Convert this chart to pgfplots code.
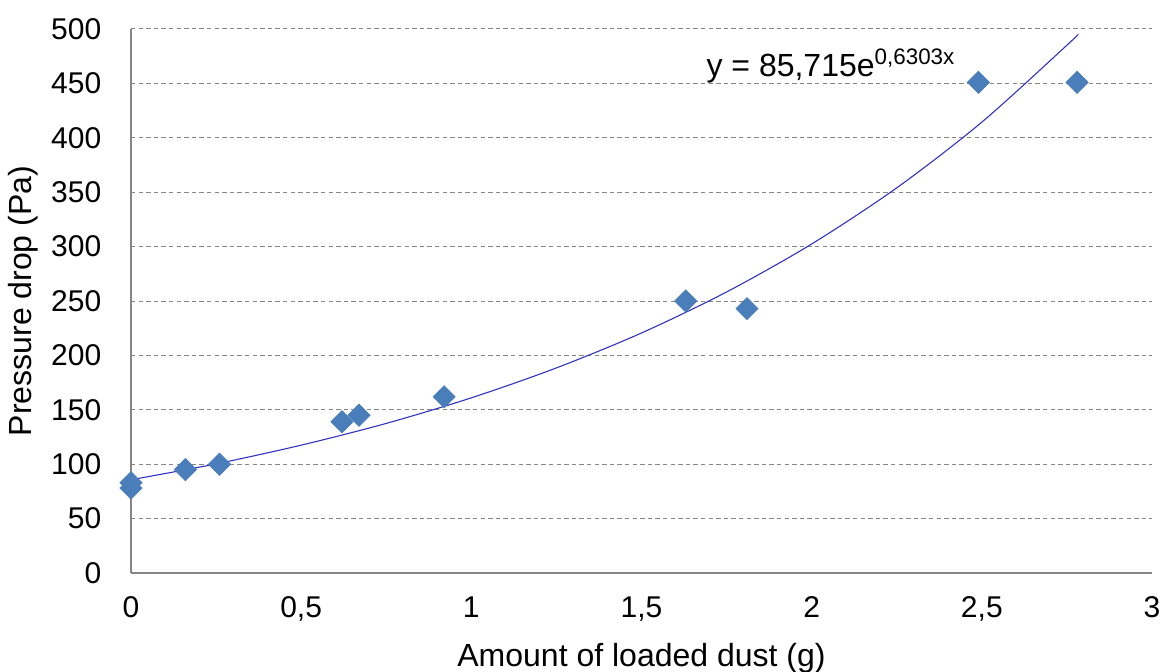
\documentclass[border=0pt]{standalone}
\usepackage{fontspec}
\setmainfont{Liberation Sans}
\usepackage{pgfplots}
\pgfplotsset{compat=1.18}

\definecolor{markblue}{RGB}{74,126,187}
\definecolor{fitblue}{RGB}{50,50,195}
\definecolor{axgray}{RGB}{134,134,134}

\begin{document}
\fontsize{14bp}{16bp}\selectfont
\begin{tikzpicture}
\begin{axis}[
  scale only axis,
  width=510.5bp, height=272bp,
  xmin=0, xmax=3, ymin=0, ymax=500,
  xtick={0,0.5,1,1.5,2,2.5,3},
  xticklabels={0,{0,5},1,{1,5},2,{2,5},3},
  ytick={0,50,...,500},
  axis x line*=bottom, axis y line*=left,
  axis line style={axgray, line width=0.7pt, -},
  major tick length=0pt,
  ymajorgrids,
  grid style={axgray, line width=0.5pt, dash pattern=on 2.2bp off 1.6bp},
  /pgf/number format/assume math mode=true,
  tick label style={font=\fontsize{15bp}{17bp}\selectfont, black},
  xticklabel style={yshift=-7bp},
  yticklabel style={xshift=-10bp},
  label style={font=\fontsize{16bp}{18bp}\selectfont},
  xlabel={Amount of loaded dust (g)},
  ylabel={Pressure drop (Pa)},
  xlabel style={yshift=-1.5bp},
  ylabel style={yshift=-3bp},
  clip=false,
]
% exponential trend line
\addplot[fitblue, line width=0.55pt, smooth, no markers] coordinates
  {(0,85.7) (0.25,100.3) (0.5,117.5) (0.75,137.5) (1.0,161.0) (1.25,188.5)
   (1.5,220.6) (1.75,258.3) (2.0,302.4) (2.25,354.0) (2.5,414.4) (2.75,485.1) (2.78,494.3)};
% measured points
\addplot[only marks, mark=square*, mark size=3.9bp,
         mark options={rotate=45, draw=markblue, fill=markblue}] coordinates
  {(0,78) (0,83) (0.16,95) (0.26,100) (0.62,139) (0.67,145) (0.92,162)
   (1.63,250) (1.81,243) (2.49,451) (2.78,451)};
\node[anchor=base west, inner sep=0pt, font=\fontsize{16bp}{18bp}\selectfont]
  at (axis cs:1.69,456) {y = 85,715e\textsuperscript{0,6303x}};
\end{axis}
\pgfresetboundingbox
\useasboundingbox ([shift={(-65.5bp,-49.5bp)}]current axis.south west)
  rectangle ([shift={(7bp,14.5bp)}]current axis.north east);
\end{tikzpicture}
\end{document}
